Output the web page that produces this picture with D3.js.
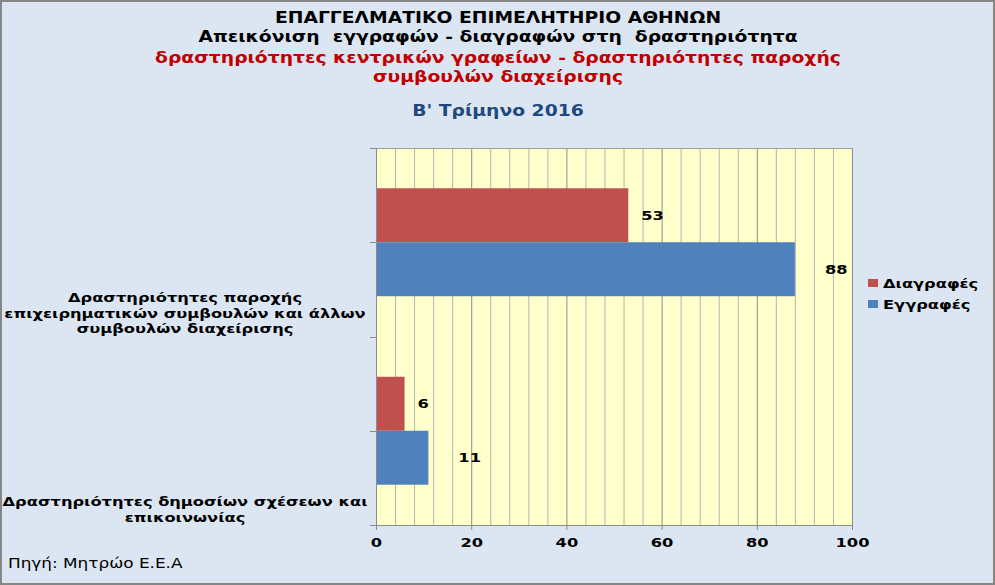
<!DOCTYPE html>
<html>
<head>
<meta charset="utf-8">
<script src="https://cdn.jsdelivr.net/npm/d3@7"></script>
<style>
  html, body { margin: 0; padding: 0; background: #DCE6F2; }
  svg { display: block; }
  text { font-family: "DejaVu Sans", Verdana, sans-serif; }
</style>
</head>
<body>
<script>
// ---- DATA ----
const categories = [
  "Δραστηριότητες παροχής επιχειρηματικών συμβουλών και άλλων συμβουλών διαχείρισης",
  "Δραστηριότητες δημοσίων σχέσεων και επικοινωνίας"
];
const categoryLines = [
  ["Δραστηριότητες παροχής", "επιχειρηματικών συμβουλών και άλλων", "συμβουλών διαχείρισης"],
  ["Δραστηριότητες δημοσίων σχέσεων και", "επικοινωνίας"]
];
const seriesNames = ["Διαγραφές", "Εγγραφές"];
const diagrafes = [53, 6];
const eggrafes = [88, 11];
const xTicks = [0, 20, 40, 60, 80, 100];
const titleLines = [
  "ΕΠΑΓΓΕΛΜΑΤΙΚΟ ΕΠΙΜΕΛΗΤΗΡΙΟ ΑΘΗΝΩΝ",
  "Απεικόνιση  εγγραφών - διαγραφών στη  δραστηριότητα",
  "δραστηριότητες κεντρικών γραφείων - δραστηριότητες παροχής",
  "συμβουλών διαχείρισης"
];
const subtitle = "Β' Τρίμηνο 2016";
const sourceText = "Πηγή: Μητρώο Ε.Ε.Α";

// ---- LAYOUT ----
const W = 995, H = 585;
const SX = 1.25; // horizontal stretch of the reference's text
const colors = { "Διαγραφές": "#C0504D", "Εγγραφές": "#4F81BD" };
const svg = d3.select("body").append("svg").attr("width", W).attr("height", H);

function addText(parent, px, py) {
  return parent.append("text").attr("transform", `translate(${px},${py}) scale(${SX},1)`)
    .attr("dy", "0.35em");
}

svg.append("rect").attr("x", 1).attr("y", 1).attr("width", W - 2).attr("height", H - 2)
  .attr("fill", "#DCE6F2").attr("stroke", "#868686").attr("stroke-width", 2);

const x = d3.scaleLinear().domain([0, 100]).range([376, 852]);
const y = d3.scaleBand().domain(categories).range([148, 525]);
const bw = y.bandwidth();
const inner = d3.scaleBand().domain(seriesNames).range([bw * 0.2137, bw * (1 - 0.2137)]);

// plot background
svg.append("rect").attr("x", x(0)).attr("y", 148).attr("width", x(100) - x(0)).attr("height", 525 - 148)
  .attr("fill", "#FFFFCC");

// gridlines
const minor = d3.range(0, 101, 4);
svg.append("g").selectAll("line").data(minor).join("line")
  .attr("x1", d => x(d) + 0.5).attr("x2", d => x(d) + 0.5)
  .attr("y1", 148).attr("y2", 525)
  .attr("stroke", d => (d % 20 === 0 ? "#8C8C8C" : "#B4B4B4"))
  .attr("stroke-width", 1);
svg.append("line").attr("x1", x(0)).attr("x2", x(100)).attr("y1", 148.5).attr("y2", 148.5)
  .attr("stroke", "#A0A0A0");

// bars
const rows = categories.map((c, i) => ({ cat: c, vals: [
  { s: "Διαγραφές", v: diagrafes[i] }, { s: "Εγγραφές", v: eggrafes[i] }] }));
const labelOffset = { "Διαγραφές": 13, "Εγγραφές": 30 };
const g = svg.append("g").selectAll("g").data(rows).join("g")
  .attr("transform", d => `translate(0,${y(d.cat)})`);
g.selectAll("rect").data(d => d.vals).join("rect")
  .attr("x", x(0)).attr("y", d => inner(d.s)).attr("width", d => x(d.v) - x(0))
  .attr("height", inner.bandwidth()).attr("fill", d => colors[d.s]);
g.each(function (d) {
  const gg = d3.select(this);
  d.vals.forEach(v => {
    addText(gg, x(v.v) + labelOffset[v.s], inner(v.s) + inner.bandwidth() / 2)
      .attr("font-size", 13).attr("font-weight", "bold").attr("fill", "#000").text(v.v);
  });
});

// x axis
const xAxis = svg.append("g").attr("transform", "translate(0,525)")
  .call(d3.axisBottom(x).tickValues(xTicks).tickSize(5).tickPadding(8));
xAxis.select(".domain").attr("stroke", "#8C8C8C");
xAxis.selectAll(".tick line").attr("stroke", "#8C8C8C");
xAxis.selectAll("text").attr("font-size", 13).attr("font-weight", "bold").attr("fill", "#000")
  .attr("font-family", "DejaVu Sans").attr("transform", `scale(${SX},1)`);

// y axis (category)
const yAxisLine = svg.append("g");
yAxisLine.append("line").attr("x1", x(0) + 0.5).attr("x2", x(0) + 0.5).attr("y1", 148).attr("y2", 525)
  .attr("stroke", "#8C8C8C");
const yTicks = [];
categories.forEach(c => { yTicks.push(y(c)); yTicks.push(y(c) + bw / 2); });
yTicks.push(525);
yAxisLine.selectAll("line.t").data(yTicks).join("line").attr("class", "t")
  .attr("x1", x(0) - 6).attr("x2", x(0)).attr("y1", d => Math.round(d) + 0.5).attr("y2", d => Math.round(d) + 0.5)
  .attr("stroke", "#8C8C8C");

// category labels
categories.forEach((c, i) => {
  const lines = categoryLines[i];
  const lastY = y(c) + bw - 8;
  lines.forEach((ln, j) => {
    addText(svg, 185, lastY - (lines.length - 1 - j) * 15.5)
      .attr("text-anchor", "middle").attr("font-size", 13)
      .attr("font-weight", "bold").attr("fill", "#000").text(ln);
  });
});

// title
const titleY = [18, 37, 58, 77];
const titleColors = ["#000", "#000", "#C00000", "#C00000"];
titleLines.forEach((t, i) => {
  addText(svg, 498, titleY[i])
    .attr("text-anchor", "middle").attr("font-size", 15).attr("font-weight", "bold")
    .attr("fill", titleColors[i]).style("white-space", "pre").text(t);
});
addText(svg, 498, 111)
  .attr("text-anchor", "middle").attr("font-size", 15).attr("font-weight", "bold")
  .attr("fill", "#1F497D").text(subtitle);

// legend
const leg = svg.append("g").selectAll("g").data(seriesNames).join("g")
  .attr("transform", (d, i) => `translate(868,${283 + i * 21})`);
leg.append("rect").attr("x", 0).attr("y", -4).attr("width", 10).attr("height", 8)
  .attr("fill", d => colors[d]);
leg.each(function (d) {
  addText(d3.select(this), 15, 0).attr("font-size", 13)
    .attr("font-weight", "bold").attr("fill", "#000").text(d);
});

// source
addText(svg, 8, 563).attr("font-size", 13.5).attr("fill", "#000").text(sourceText);
</script>
</body>
</html>
